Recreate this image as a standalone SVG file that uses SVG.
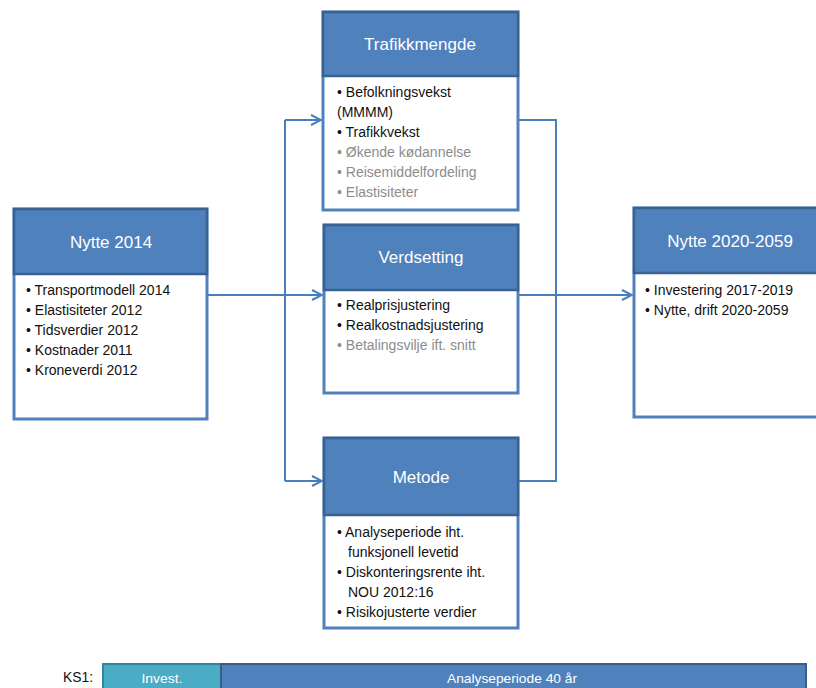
<svg xmlns="http://www.w3.org/2000/svg" width="816" height="688" viewBox="0 0 816 688">
<defs>
<marker id="arr" viewBox="0 0 12 12" refX="11" refY="6" markerWidth="12" markerHeight="12" markerUnits="userSpaceOnUse" orient="auto">
<polyline points="1,1 11,6 1,11" fill="none" stroke="#4A7EBB" stroke-width="2"/>
</marker>
</defs>
<style>
.body{fill:#ffffff;stroke:#4F81BD;stroke-width:3}
.head{fill:#4F81BD;stroke:#3A6190;stroke-width:2.5}
.ht{font-family:"Liberation Sans",Arial,sans-serif;font-size:17px;fill:#ffffff;text-anchor:middle}
.t{font-family:"Liberation Sans",Arial,sans-serif;font-size:14px;fill:#111111}
.g{fill:#8C8C8C}
.c{fill:none;stroke:#4A7EBB;stroke-width:2}
.bt{font-family:"Liberation Sans",Arial,sans-serif;font-size:13px;fill:#ffffff;text-anchor:middle}
</style>
<g id="connectors">
<path class="c" d="M208,295 H322" marker-end="url(#arr)"/>
<path class="c" d="M285,120 V481"/>
<path class="c" d="M285,120 H321" marker-end="url(#arr)"/>
<path class="c" d="M285,481 H322" marker-end="url(#arr)"/>
<path class="c" d="M518,120 H556 V481 H518"/>
<path class="c" d="M518,295 H632" marker-end="url(#arr)"/>
</g>
<g id="nytte2014">
<rect class="body" x="14" y="209" width="193" height="210"/>
<rect class="head" x="14" y="209" width="193" height="65"/>
<text class="ht" x="111" y="248">Nytte 2014</text>
<text class="t" x="26" y="295">• Transportmodell 2014</text>
<text class="t" x="26" y="315">• Elastisiteter 2012</text>
<text class="t" x="26" y="335">• Tidsverdier 2012</text>
<text class="t" x="26" y="355">• Kostnader 2011</text>
<text class="t" x="26" y="375">• Kroneverdi 2012</text>
</g>
<g id="trafikkmengde">
<rect class="body" x="323" y="12" width="195" height="198"/>
<rect class="head" x="323" y="12" width="195" height="64"/>
<text class="ht" x="420" y="50">Trafikkmengde</text>
<text class="t" x="337" y="97">• Befolkningsvekst</text>
<text class="t" x="337" y="117">(MMMM)</text>
<text class="t" x="337" y="137">• Trafikkvekst</text>
<text class="t g" x="337" y="157">• Økende kødannelse</text>
<text class="t g" x="337" y="177">• Reisemiddelfordeling</text>
<text class="t g" x="337" y="197">• Elastisiteter</text>
</g>
<g id="verdsetting">
<rect class="body" x="324" y="225" width="194" height="168"/>
<rect class="head" x="324" y="225" width="194" height="65"/>
<text class="ht" x="421" y="263">Verdsetting</text>
<text class="t" x="337" y="310">• Realprisjustering</text>
<text class="t" x="337" y="330">• Realkostnadsjustering</text>
<text class="t g" x="337" y="350">• Betalingsvilje ift. snitt</text>
</g>
<g id="metode">
<rect class="body" x="324" y="438" width="194" height="190"/>
<rect class="head" x="324" y="438" width="194" height="77"/>
<text class="ht" x="421" y="483">Metode</text>
<text class="t" x="337" y="537">• Analyseperiode iht.</text>
<text class="t" x="348" y="557">funksjonell levetid</text>
<text class="t" x="337" y="577">• Diskonteringsrente iht.</text>
<text class="t" x="348" y="597">NOU 2012:16</text>
<text class="t" x="337" y="617">• Risikojusterte verdier</text>
</g>
<g id="nytte2020">
<rect class="body" x="634" y="208" width="200" height="209"/>
<rect class="head" x="634" y="208" width="200" height="65"/>
<text class="ht" x="730" y="247">Nytte 2020-2059</text>
<text class="t" x="645" y="295">• Investering 2017-2019</text>
<text class="t" x="645" y="315">• Nytte, drift 2020-2059</text>
</g>
<g id="ks1">
<text font-family="Liberation Sans,Arial,sans-serif" font-size="14" fill="#111111" x="63" y="682" textLength="30" lengthAdjust="spacingAndGlyphs">KS1:</text>
<rect x="103" y="664" width="118" height="40" fill="#4BACC6" stroke="#31859C" stroke-width="2"/>
<rect x="221" y="664" width="585" height="40" fill="#4F81BD" stroke="#385D8A" stroke-width="2"/>
<text class="bt" x="162" y="683" textLength="41" lengthAdjust="spacingAndGlyphs">Invest.</text>
<text class="bt" x="512" y="683" textLength="130" lengthAdjust="spacingAndGlyphs">Analyseperiode 40 år</text>
</g>
</svg>
